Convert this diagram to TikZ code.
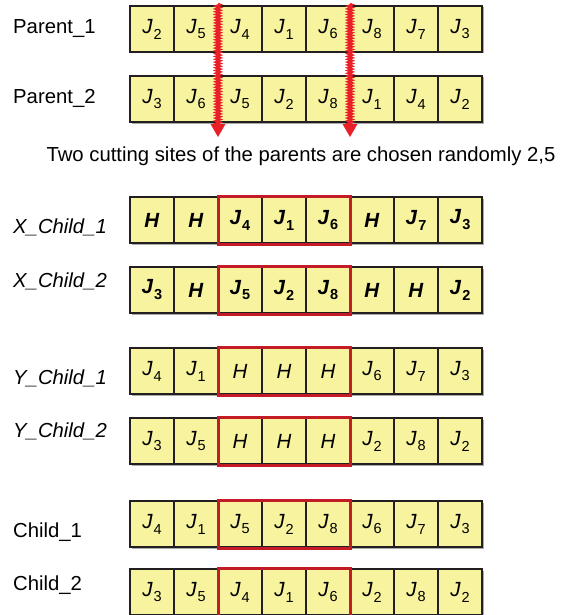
\documentclass[tikz,border=0pt]{standalone}
\usepackage{fontspec}
\setmainfont{Liberation Sans}
\usetikzlibrary{calc,decorations.pathmorphing}
\definecolor{cellfill}{RGB}{247,243,158}
\definecolor{cellline}{RGB}{35,31,32}
\definecolor{boxred}{RGB}{196,28,38}
\definecolor{arrowred}{RGB}{234,32,40}
\definecolor{shadowgray}{RGB}{170,170,170}
\newcommand{\Jn}[1]{\textit{J}\kern0.8pt\raisebox{-0.55ex}{\fontsize{14.5}{14.5}\selectfont #1}}
\newcommand{\Jb}[1]{\textbf{\textit{J}}\kern0.8pt\raisebox{-0.55ex}{\fontsize{14.5}{14.5}\selectfont\bfseries #1}}
\newcommand{\Hn}{\textit{H}}
\newcommand{\Hb}{\textbf{\textit{H}}}
\newcommand{\generow}[3]{%
  \fill[shadowgray] (131.5,#2+1.5) rectangle (483.5,#2+47.5);
  \foreach \c [count=\i] in {#3} {\node[cell] (#1c\i) at ({130+44*(\i-1)},#2) {\c};}%
}
\tikzset{
  cell/.style={draw=cellline, fill=cellfill, line width=1.2pt, minimum width=44pt,
    minimum height=46pt, inner sep=0pt, outer sep=0pt, anchor=north west,
    font=\fontsize{20.5}{20.5}\selectfont},
  lbl/.style={anchor=base west, inner sep=0pt, font=\fontsize{20.3}{20.3}\selectfont},
  xlbl/.style={lbl, font=\fontsize{20.3}{20.3}\selectfont\itshape},
  redbox/.style={draw=boxred, line width=3pt},
  cutline/.style={draw=arrowred, line width=2.3pt,
    decorate, decoration={zigzag, segment length=2.8pt, amplitude=1.9pt}},
}
\begin{document}
\begin{tikzpicture}[x=1pt,y=-1pt]
\useasboundingbox (0,0) rectangle (566,615);
% rows
\generow{pa}{6}{{\Jn{2}},{\Jn{5}},{\Jn{4}},{\Jn{1}},{\Jn{6}},{\Jn{8}},{\Jn{7}},{\Jn{3}}}
\generow{pb}{76}{{\Jn{3}},{\Jn{6}},{\Jn{5}},{\Jn{2}},{\Jn{8}},{\Jn{1}},{\Jn{4}},{\Jn{2}}}
\generow{xa}{197}{{\Hb},{\Hb},{\Jb{4}},{\Jb{1}},{\Jb{6}},{\Hb},{\Jb{7}},{\Jb{3}}}
\generow{xb}{267}{{\Jb{3}},{\Hb},{\Jb{5}},{\Jb{2}},{\Jb{8}},{\Hb},{\Hb},{\Jb{2}}}
\generow{ya}{348}{{\Jn{4}},{\Jn{1}},{\Hn},{\Hn},{\Hn},{\Jn{6}},{\Jn{7}},{\Jn{3}}}
\generow{yb}{418}{{\Jn{3}},{\Jn{5}},{\Hn},{\Hn},{\Hn},{\Jn{2}},{\Jn{8}},{\Jn{2}}}
\generow{ca}{501}{{\Jn{4}},{\Jn{1}},{\Jn{5}},{\Jn{2}},{\Jn{8}},{\Jn{6}},{\Jn{7}},{\Jn{3}}}
\generow{cb}{569}{{\Jn{3}},{\Jn{5}},{\Jn{4}},{\Jn{1}},{\Jn{6}},{\Jn{2}},{\Jn{8}},{\Jn{2}}}
% red boxes around the exchanged segment
\foreach \r in {xa,xb,ya,yb,ca,cb}
  \draw[redbox] ($(\r c3.north west)+(0,-0.3)$) rectangle ($(\r c5.south east)+(0.5,1)$);
% labels
\node[lbl] (lpa) at (13,34) {Parent\_1};
\node[lbl] (lpb) at (13,104) {Parent\_2};
\node[xlbl] (lxa) at (13,233) {X\_Child\_1};
\node[xlbl] (lxb) at (13,287) {X\_Child\_2};
\node[xlbl] (lya) at (13,384) {Y\_Child\_1};
\node[xlbl] (lyb) at (13,437) {Y\_Child\_2};
\node[lbl] (lca) at (13,537) {Child\_1};
\node[lbl] (lcb) at (13,590) {Child\_2};
\node[anchor=base, inner sep=0pt, font=\fontsize{20.3}{20.3}\selectfont] (cap) at (301,161)
  {Two cutting sites of the parents are chosen randomly 2,5};
% cutting arrows
\foreach \k/\cx in {1/218,2/350} {
  \coordinate (cut\k s) at (\cx,4);
  \coordinate (cut\k m) at (\cx,125);
  \coordinate (cut\k e) at (\cx,137);
  \draw[cutline] (cut\k s) -- (cut\k m);
  \fill[arrowred] ($(cut\k e)+(-7.5,-13)$) -- ($(cut\k e)+(7.5,-13)$) -- (cut\k e) -- cycle;
}
\end{tikzpicture}
\end{document}
